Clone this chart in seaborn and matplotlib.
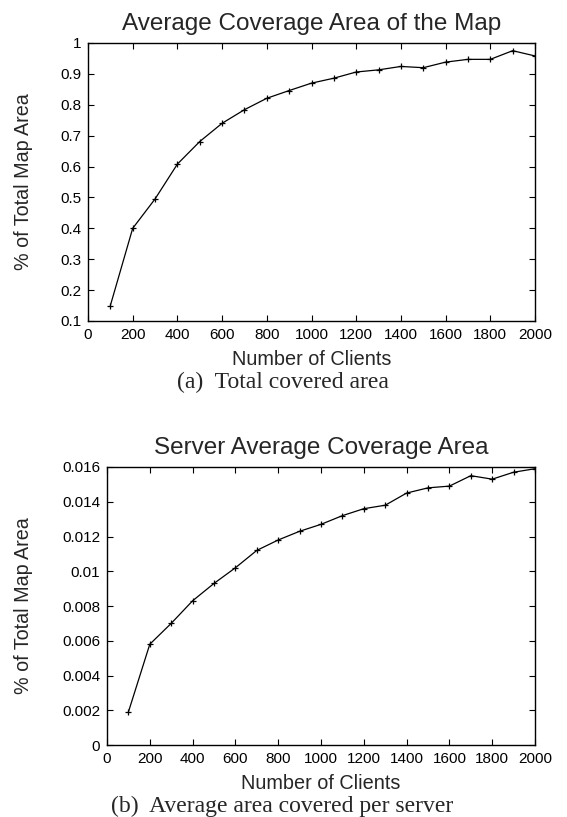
import matplotlib
matplotlib.use("Agg")
import matplotlib.pyplot as plt
import seaborn as sns
import pandas as pd

clients = [100, 200, 300, 400, 500, 600, 700, 800, 900, 1000,
           1100, 1200, 1300, 1400, 1500, 1600, 1700, 1800, 1900, 2000]
total_cov = [0.15, 0.40, 0.495, 0.608, 0.681, 0.740, 0.784, 0.821, 0.846, 0.870,
             0.886, 0.906, 0.913, 0.924, 0.920, 0.938, 0.947, 0.947, 0.975, 0.958]
server_cov = [0.0019, 0.0058, 0.0070, 0.0083, 0.0093, 0.0102, 0.0112, 0.0118, 0.0123, 0.0127,
              0.0132, 0.0136, 0.0138, 0.0145, 0.0148, 0.0149, 0.0155, 0.0153, 0.0157, 0.0159]

top_title = "Average Coverage Area of the Map"
bot_title = "Server Average Coverage Area"
xlabel = "Number of Clients"
ylabel = "% of Total Map Area"
cap_a = "(a)  Total covered area"
cap_b = "(b)  Average area covered per server"
x_ticks = list(range(0, 2001, 200))
top_yticks = [0.1, 0.2, 0.3, 0.4, 0.5, 0.6, 0.7, 0.8, 0.9, 1.0]
top_yticklabels = ["0.1", "0.2", "0.3", "0.4", "0.5", "0.6", "0.7", "0.8", "0.9", "1"]
bot_yticks = [0, 0.002, 0.004, 0.006, 0.008, 0.01, 0.012, 0.014, 0.016]
bot_yticklabels = ["0", "0.002", "0.004", "0.006", "0.008", "0.01", "0.012", "0.014", "0.016"]

sns.set_style("ticks")
plt.rcParams['font.family'] = ['Liberation Sans', 'DejaVu Sans']

fig = plt.figure(figsize=(5.67, 8.17), dpi=100)
ax1 = fig.add_axes([0.1552, 0.6071, 0.7884, 0.3403])
ax2 = fig.add_axes([0.1887, 0.0881, 0.7549, 0.3403])

df = pd.DataFrame({"clients": clients, "total": total_cov, "server": server_cov})

def style(ax, yt, ytl, ylim, title, ylab_x):
    ax.set_xlim(0, 2000)
    ax.set_ylim(*ylim)
    ax.set_xticks(x_ticks)
    ax.set_xticklabels([str(v) for v in x_ticks])
    ax.set_yticks(yt)
    ax.set_yticklabels(ytl)
    ax.tick_params(direction='in', length=4, width=0.8, top=True, right=True,
                   labelsize=11, pad=5, colors='black')
    for s in ax.spines.values():
        s.set_linewidth(1.0)
        s.set_color('black')
        s.set_visible(True)
    ax.set_title(title, fontsize=17.5, pad=9)
    ax.set_xlabel(xlabel, fontsize=14.3)
    ax.xaxis.set_label_coords(0.5, -0.104)
    ax.set_ylabel(ylabel, fontsize=14.2)
    ax.yaxis.set_label_coords(ylab_x, 0.5)

sns.lineplot(data=df, x="clients", y="total", ax=ax1, color='black', linewidth=0.9,
             marker='+', markersize=5, markeredgewidth=0.9, markeredgecolor='black')
style(ax1, top_yticks, top_yticklabels, (0.1, 1.0), top_title, -0.123)
sns.lineplot(data=df, x="clients", y="server", ax=ax2, color='black', linewidth=0.9,
             marker='+', markersize=5, markeredgewidth=0.9, markeredgecolor='black')
style(ax2, bot_yticks, bot_yticklabels, (0, 0.016), bot_title, -0.173)

fig.text(0.499, 1 - 382/817, cap_a, ha='center', va='center', fontsize=17,
         family=['Liberation Serif', 'DejaVu Serif'])
fig.text(0.498, 1 - 806/817, cap_b, ha='center', va='center', fontsize=17,
         family=['Liberation Serif', 'DejaVu Serif'])

fig.savefig("out.png", dpi=100)
